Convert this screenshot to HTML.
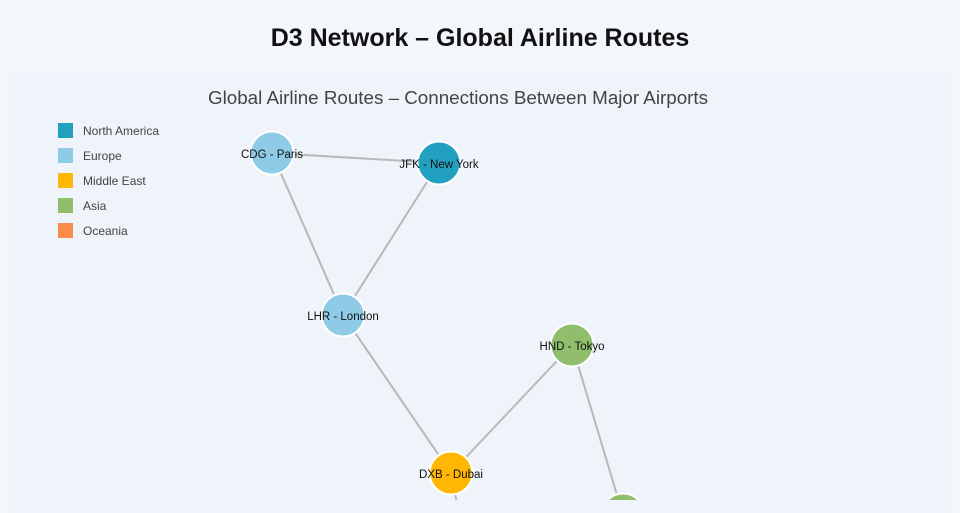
<!DOCTYPE html>
<html><head><meta charset="utf-8"><style>
html,body{margin:0;padding:0;width:960px;height:500px;overflow:hidden;background:#f3f7fb;font-family:"Liberation Sans",sans-serif}
h1{position:absolute;top:0;left:0;width:960px;margin:0;text-align:center;font-size:25px;line-height:76px;font-weight:bold;color:#111}
.panel{position:absolute;left:8px;top:73px;width:944px;height:440px;background:#eff4fa}
</style></head><body>
<h1>D3 Network – Global Airline Routes</h1>
<div class="panel"></div>
<svg width="960" height="500" style="position:absolute;left:0;top:0" font-family="Liberation Sans, sans-serif">
<text x="458" y="104" text-anchor="middle" font-size="18.8" fill="#444">Global Airline Routes – Connections Between Major Airports</text>
<g font-size="12" fill="#444">
<rect x="58" y="123" width="15" height="15" fill="#21a0bf"/><text x="83" y="135">North America</text>
<rect x="58" y="148" width="15" height="15" fill="#8fcae6"/><text x="83" y="160">Europe</text>
<rect x="58" y="173" width="15" height="15" fill="#ffb703"/><text x="83" y="185">Middle East</text>
<rect x="58" y="198" width="15" height="15" fill="#90be6d"/><text x="83" y="210">Asia</text>
<rect x="58" y="223" width="15" height="15" fill="#fb8b4b"/><text x="83" y="235">Oceania</text>
</g>
<g stroke="#b8b8b8" stroke-width="2">
<line x1="272" y1="153" x2="439" y2="163"/>
<line x1="272" y1="153" x2="343" y2="315"/>
<line x1="439" y1="163" x2="343" y2="315"/>
<line x1="343" y1="315" x2="451" y2="473"/>
<line x1="451" y1="473" x2="572" y2="345"/>
<line x1="572" y1="345" x2="623" y2="515"/>
<line x1="451" y1="473" x2="460" y2="520"/>
</g>
<g stroke="#fff" stroke-width="2">
<circle cx="272" cy="153" r="21.5" fill="#8fcae6"/>
<circle cx="439" cy="163" r="21.5" fill="#21a0bf"/>
<circle cx="343" cy="315" r="21.5" fill="#8fcae6"/>
<circle cx="572" cy="345" r="21.5" fill="#90be6d"/>
<circle cx="451" cy="473" r="21.5" fill="#ffb703"/>
<circle cx="623" cy="515" r="21.5" fill="#90be6d"/>
</g>
<g font-size="11.5" fill="#111" text-anchor="middle">
<text x="272" y="158">CDG - Paris</text>
<text x="439" y="168">JFK - New York</text>
<text x="343" y="320">LHR - London</text>
<text x="572" y="350">HND - Tokyo</text>
<text x="451" y="478">DXB - Dubai</text>
</g>
</svg>
</body></html>
